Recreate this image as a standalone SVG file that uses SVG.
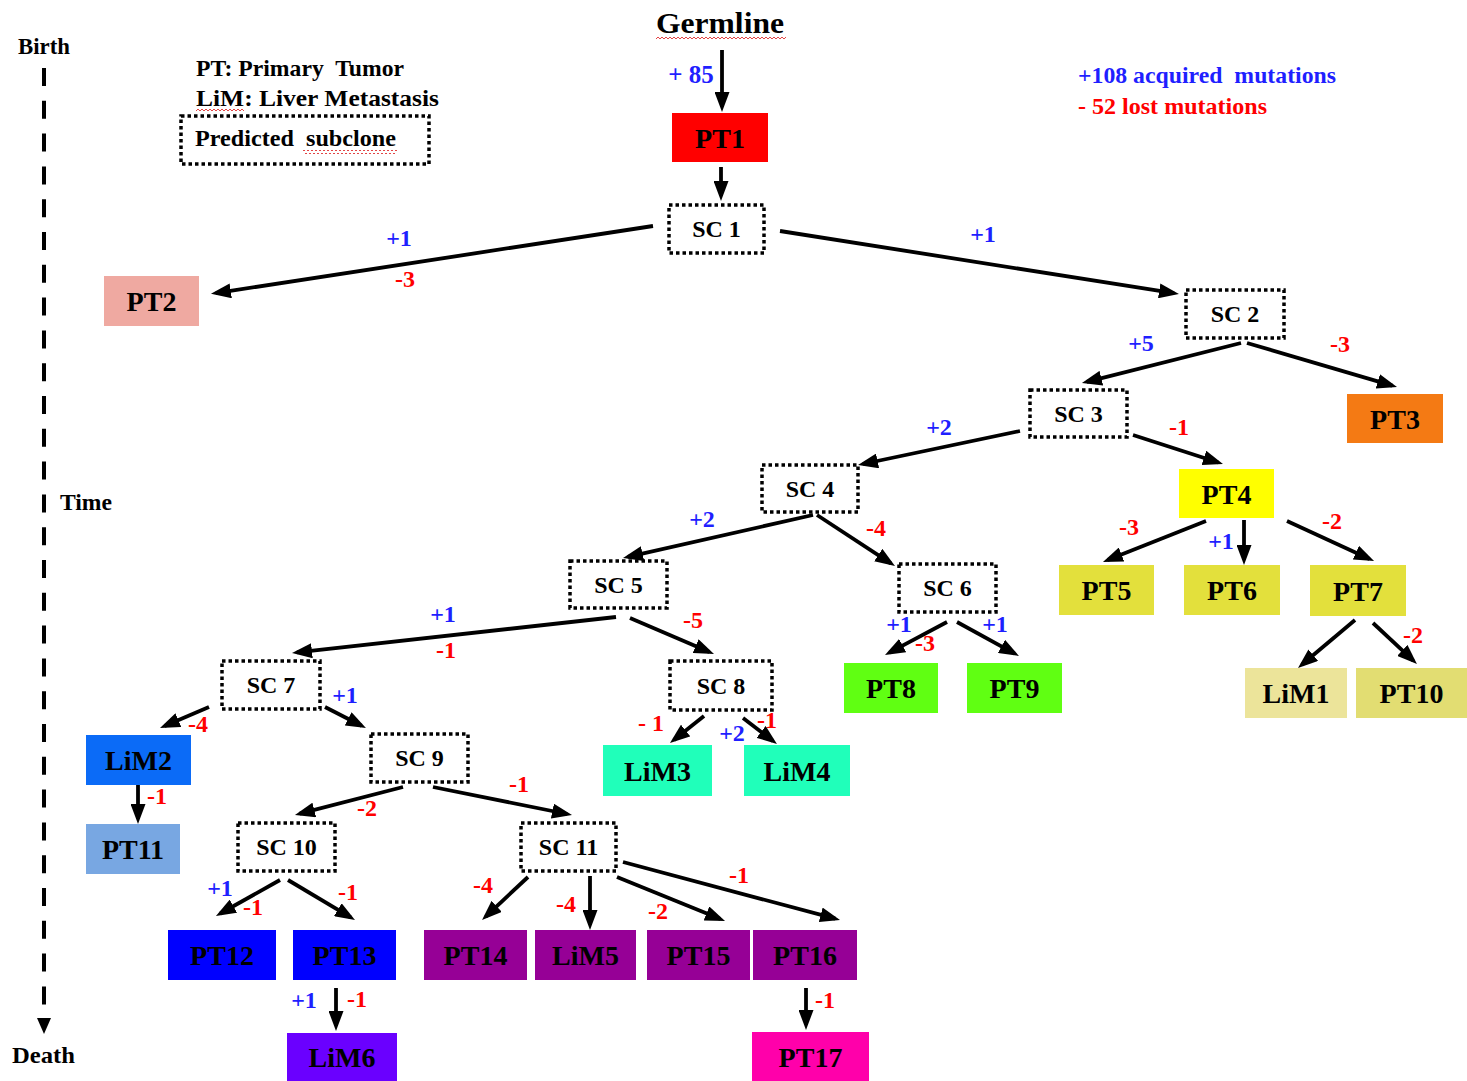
<svg xmlns="http://www.w3.org/2000/svg" width="1467" height="1081" viewBox="0 0 1467 1081">
  <style>
    text { font-family: "Liberation Serif", "Times New Roman", serif; font-weight: bold; }
    .lbl { font-size: 28px; text-anchor: middle; fill: #000; }
    .sclbl { font-size: 24px; text-anchor: middle; fill: #000; }
    .sc rect, .legendbox { fill: #fff; stroke: #000; stroke-width: 3.5; stroke-dasharray: 3.5 3; }
    .conn line { stroke: #000; stroke-width: 3.8; marker-end: url(#arrow); }
    .gain { font-size: 24px; fill: #1f1fff; text-anchor: middle; }
    .loss { font-size: 24px; fill: #ff0000; text-anchor: middle; }
    .note { font-size: 23px; fill: #000; white-space: pre; }
  </style>
  <defs>
    <marker id="arrow" markerUnits="userSpaceOnUse" viewBox="0 0 20 15" markerWidth="20" markerHeight="15" refX="15" refY="7.5" orient="auto">
      <path d="M0,0 L20,7.5 L0,15 z" fill="#000"/>
    </marker>
    <pattern id="squiggle" width="4" height="4" patternUnits="userSpaceOnUse">
      <path d="M0,3 L2,1 L4,3" fill="none" stroke="#e03030" stroke-width="0.9"/>
    </pattern>
  </defs>

  <rect width="1467" height="1081" fill="#fff"/>

  <!-- time axis -->
  <g id="time-axis">
    <line x1="44" y1="68" x2="44" y2="1005" stroke="#000" stroke-width="4" stroke-dasharray="18 14.8"/>
    <polygon points="37,1018 51,1018 44,1034" fill="#000"/>
    <text x="18" y="54" class="note" textLength="52" lengthAdjust="spacingAndGlyphs">Birth</text>
    <text x="60" y="510" class="note" textLength="52" lengthAdjust="spacingAndGlyphs">Time</text>
    <text x="12" y="1063" class="note" textLength="63" lengthAdjust="spacingAndGlyphs">Death</text>
  </g>

  <!-- legend -->
  <g id="legend">
    <text x="196" y="76" class="note" textLength="208" lengthAdjust="spacingAndGlyphs">PT: Primary  Tumor</text>
    <text x="196" y="106" class="note" textLength="243" lengthAdjust="spacingAndGlyphs">LiM: Liver Metastasis</text>
    <rect x="196" y="109" width="48" height="4" fill="url(#squiggle)"/>
    <rect class="legendbox" x="181" y="116" width="248" height="48"/>
    <text x="195" y="146" class="note" textLength="201" lengthAdjust="spacingAndGlyphs">Predicted  subclone</text>
    <rect x="303" y="150" width="94" height="4" fill="url(#squiggle)"/>
  </g>

  <!-- totals -->
  <g id="totals">
    <text x="1078" y="83" class="note" style="fill:#1f1fff" textLength="258" lengthAdjust="spacingAndGlyphs">+108 acquired  mutations</text>
    <text x="1078" y="114" class="note" style="fill:#ff0000" textLength="189" lengthAdjust="spacingAndGlyphs">- 52 lost mutations</text>
  </g>

  <!-- root -->
  <g id="germline">
    <text x="656" y="33" style="font-size:30px" textLength="128" lengthAdjust="spacingAndGlyphs">Germline</text>
    <rect x="656" y="35" width="130" height="4" fill="url(#squiggle)"/>
  </g>

  <!-- connectors -->
  <g id="connectors" class="conn">
    <line x1="722" y1="50" x2="722" y2="107"/>
    <line x1="721" y1="167" x2="721" y2="196"/>
    <line x1="653" y1="226" x2="215.9" y2="293.1"/>
    <line x1="780" y1="231" x2="1174" y2="293.2"/>
    <line x1="1241" y1="343" x2="1086.8" y2="381.8"/>
    <line x1="1247" y1="343" x2="1392.2" y2="385.6"/>
    <line x1="1020" y1="431" x2="862.9" y2="464"/>
    <line x1="1133" y1="435" x2="1218.2" y2="462.5"/>
    <line x1="813" y1="515" x2="627.9" y2="556.9"/>
    <line x1="817" y1="515" x2="890.8" y2="563.3"/>
    <line x1="1206" y1="521" x2="1107.6" y2="560.1"/>
    <line x1="1244" y1="520" x2="1244" y2="560"/>
    <line x1="1287" y1="521" x2="1369.5" y2="558.9"/>
    <line x1="1355" y1="620" x2="1301.8" y2="664.8"/>
    <line x1="1373" y1="623" x2="1413.3" y2="660.6"/>
    <line x1="616" y1="617" x2="297" y2="652.4"/>
    <line x1="630" y1="618" x2="709.4" y2="652"/>
    <line x1="947" y1="622" x2="889.4" y2="652.6"/>
    <line x1="957" y1="622" x2="1014.6" y2="653.6"/>
    <line x1="704" y1="716" x2="673.9" y2="739.9"/>
    <line x1="743" y1="718" x2="773" y2="741"/>
    <line x1="209" y1="707" x2="164.6" y2="726"/>
    <line x1="325" y1="707" x2="361.5" y2="725.7"/>
    <line x1="138" y1="785" x2="138" y2="819"/>
    <line x1="403" y1="787" x2="299.8" y2="813.7"/>
    <line x1="433" y1="787" x2="567.1" y2="814"/>
    <line x1="280" y1="880" x2="220.3" y2="913.5"/>
    <line x1="288" y1="880" x2="350.7" y2="917.4"/>
    <line x1="528" y1="877" x2="485.7" y2="916.6"/>
    <line x1="590" y1="876" x2="590" y2="925"/>
    <line x1="617" y1="877" x2="720.4" y2="919.1"/>
    <line x1="623" y1="862" x2="835.2" y2="918.7"/>
    <line x1="336" y1="988" x2="336" y2="1026"/>
    <line x1="806" y1="988" x2="806" y2="1025"/>
  </g>

  <!-- mutation counts on branches -->
  <g id="branch-counts">
    <text x="691" y="83" class="gain" style="font-size:25px">+ 85</text>
    <text x="399" y="246" class="gain">+1</text>
    <text x="405" y="287" class="loss">-3</text>
    <text x="983" y="242" class="gain">+1</text>
    <text x="1141" y="351" class="gain">+5</text>
    <text x="1340" y="352" class="loss">-3</text>
    <text x="939" y="435" class="gain">+2</text>
    <text x="1179" y="435" class="loss">-1</text>
    <text x="702" y="527" class="gain">+2</text>
    <text x="876" y="536" class="loss">-4</text>
    <text x="1129" y="535" class="loss">-3</text>
    <text x="1221" y="549" class="gain">+1</text>
    <text x="1332" y="529" class="loss">-2</text>
    <text x="1413" y="643" class="loss">-2</text>
    <text x="443" y="622" class="gain">+1</text>
    <text x="446" y="658" class="loss">-1</text>
    <text x="693" y="628" class="loss">-5</text>
    <text x="899" y="632" class="gain">+1</text>
    <text x="925" y="651" class="loss">-3</text>
    <text x="995" y="632" class="gain">+1</text>
    <text x="651" y="731" class="loss">- 1</text>
    <text x="732" y="741" class="gain">+2</text>
    <text x="767" y="728" class="loss">-1</text>
    <text x="198" y="732" class="loss">-4</text>
    <text x="345" y="703" class="gain">+1</text>
    <text x="157" y="804" class="loss">-1</text>
    <text x="367" y="816" class="loss">-2</text>
    <text x="519" y="792" class="loss">-1</text>
    <text x="220" y="896" class="gain">+1</text>
    <text x="253" y="915" class="loss">-1</text>
    <text x="348" y="900" class="loss">-1</text>
    <text x="483" y="893" class="loss">-4</text>
    <text x="566" y="912" class="loss">-4</text>
    <text x="658" y="919" class="loss">-2</text>
    <text x="739" y="883" class="loss">-1</text>
    <text x="304" y="1008" class="gain">+1</text>
    <text x="357" y="1007" class="loss">-1</text>
    <text x="825" y="1008" class="loss">-1</text>
  </g>

  <!-- sampled regions -->
  <g id="PT1"><rect x="672" y="113" width="96" height="49" fill="#ff0000"/><text x="720" y="148" class="lbl">PT1</text></g>
  <g id="PT2"><rect x="104" y="276" width="95" height="50" fill="#efa9a1"/><text x="151.5" y="311" class="lbl">PT2</text></g>
  <g id="PT3"><rect x="1347" y="394" width="96" height="49" fill="#f47a14"/><text x="1395" y="429" class="lbl">PT3</text></g>
  <g id="PT4"><rect x="1179" y="469" width="95" height="49" fill="#ffff00"/><text x="1226.5" y="504" class="lbl">PT4</text></g>
  <g id="PT5"><rect x="1059" y="565" width="95" height="50" fill="#e3e03c"/><text x="1106.5" y="600" class="lbl">PT5</text></g>
  <g id="PT6"><rect x="1184" y="565" width="96" height="50" fill="#e3e03c"/><text x="1232" y="600" class="lbl">PT6</text></g>
  <g id="PT7"><rect x="1310" y="565" width="96" height="51" fill="#e3e03c"/><text x="1358" y="601" class="lbl">PT7</text></g>
  <g id="LiM1"><rect x="1245" y="668" width="102" height="50" fill="#ece49a"/><text x="1296" y="703" class="lbl">LiM1</text></g>
  <g id="PT10"><rect x="1356" y="668" width="111" height="50" fill="#e2dd72"/><text x="1411.5" y="703" class="lbl">PT10</text></g>
  <g id="PT8"><rect x="844" y="663" width="94" height="50" fill="#60ff12"/><text x="891" y="698" class="lbl">PT8</text></g>
  <g id="PT9"><rect x="967" y="663" width="95" height="50" fill="#60ff12"/><text x="1014.5" y="698" class="lbl">PT9</text></g>
  <g id="LiM3"><rect x="603" y="745" width="109" height="51" fill="#20ffba"/><text x="657.5" y="781" class="lbl">LiM3</text></g>
  <g id="LiM4"><rect x="744" y="745" width="106" height="51" fill="#20ffba"/><text x="797" y="781" class="lbl">LiM4</text></g>
  <g id="LiM2"><rect x="86" y="735" width="105" height="50" fill="#0b6bf7"/><text x="138.5" y="770" class="lbl">LiM2</text></g>
  <g id="PT11"><rect x="86" y="824" width="94" height="50" fill="#78a7e2"/><text x="133" y="859" class="lbl">PT11</text></g>
  <g id="PT12"><rect x="168" y="930" width="108" height="50" fill="#0000ff"/><text x="222" y="965" class="lbl">PT12</text></g>
  <g id="PT13"><rect x="293" y="930" width="103" height="50" fill="#0000ff"/><text x="344.5" y="965" class="lbl">PT13</text></g>
  <g id="LiM6"><rect x="287" y="1033" width="110" height="48" fill="#6a00ff"/><text x="342" y="1067" class="lbl">LiM6</text></g>
  <g id="PT14"><rect x="424" y="930" width="103" height="50" fill="#960096"/><text x="475.5" y="965" class="lbl">PT14</text></g>
  <g id="LiM5"><rect x="535" y="930" width="101" height="50" fill="#960096"/><text x="585.5" y="965" class="lbl">LiM5</text></g>
  <g id="PT15"><rect x="647" y="930" width="103" height="50" fill="#960096"/><text x="698.5" y="965" class="lbl">PT15</text></g>
  <g id="PT16"><rect x="753" y="930" width="104" height="50" fill="#960096"/><text x="805" y="965" class="lbl">PT16</text></g>
  <g id="PT17"><rect x="752" y="1032" width="117" height="49" fill="#ff00aa"/><text x="810.5" y="1067" class="lbl">PT17</text></g>

  <!-- inferred subclones -->
  <g id="SC1" class="sc"><rect x="669" y="205" width="95" height="48"/><text x="716.5" y="237" class="sclbl">SC 1</text></g>
  <g id="SC2" class="sc"><rect x="1186" y="290" width="98" height="48"/><text x="1235" y="322" class="sclbl">SC 2</text></g>
  <g id="SC3" class="sc"><rect x="1030" y="390" width="97" height="47"/><text x="1078.5" y="422" class="sclbl">SC 3</text></g>
  <g id="SC4" class="sc"><rect x="762" y="465" width="96" height="47"/><text x="810" y="497" class="sclbl">SC 4</text></g>
  <g id="SC5" class="sc"><rect x="570" y="561" width="97" height="47"/><text x="618.5" y="593" class="sclbl">SC 5</text></g>
  <g id="SC6" class="sc"><rect x="899" y="564" width="97" height="48"/><text x="947.5" y="596" class="sclbl">SC 6</text></g>
  <g id="SC7" class="sc"><rect x="222" y="661" width="98" height="48"/><text x="271" y="693" class="sclbl">SC 7</text></g>
  <g id="SC8" class="sc"><rect x="670" y="661" width="102" height="49"/><text x="721" y="694" class="sclbl">SC 8</text></g>
  <g id="SC9" class="sc"><rect x="371" y="734" width="97" height="48"/><text x="419.5" y="766" class="sclbl">SC 9</text></g>
  <g id="SC10" class="sc"><rect x="238" y="823" width="97" height="48"/><text x="286.5" y="855" class="sclbl">SC 10</text></g>
  <g id="SC11" class="sc"><rect x="521" y="823" width="95" height="48"/><text x="568.5" y="855" class="sclbl">SC 11</text></g>
</svg>
